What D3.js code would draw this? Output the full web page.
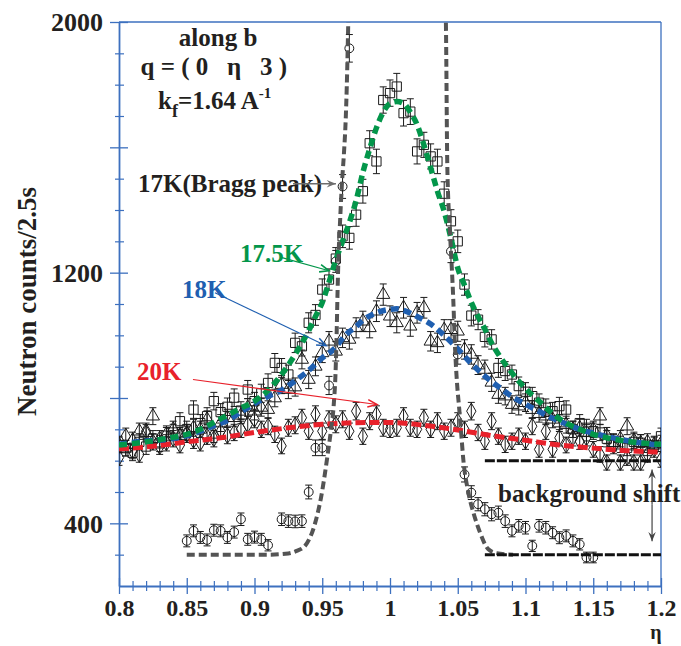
<!DOCTYPE html>
<html><head><meta charset="utf-8">
<script src="https://cdn.jsdelivr.net/npm/d3@7"></script>
<style>
body{margin:0;background:#fff}
svg text{font-family:"Liberation Serif","Times New Roman",serif;font-weight:bold}
</style>
</head><body>
<svg id="c" width="681" height="646"></svg>
<script>
// ---------------- DATA ----------------
const xTickValues = [0.8,0.85,0.9,0.95,1.0,1.05,1.1,1.15,1.2];
const xTickLabels = ["0.8","0.85","0.9","0.95","1","1.05","1.1","1.15","1.2"];
const yLabelValues = [400,1200,2000];
const yTickLabels = ["400","1200","2000"];
const yMajorTicks = [400,800,1200,1600,2000];

// [eta, counts, error]
const data17K = [
[0.850,344,19],[0.855,376,19],[0.860,355,19],[0.865,347,19],[0.870,378,19],[0.875,376,19],[0.880,355,19],[0.885,372,19],[0.890,413,20],[0.895,349,19],[0.900,356,19],[0.905,349,19],[0.910,330,18],[0.920,413,20],[0.925,407,20],[0.930,406,20],[0.935,407,20],[0.940,500,22],[0.945,641,25],[0.950,641,25],[0.955,840,29],[0.960,1236,35],[0.965,1475,38],[0.970,1916,44],
[1.045,1268,36],[1.050,939,31],[1.055,556,24],[1.060,498,22],[1.065,461,21],[1.070,445,21],[1.075,429,21],[1.080,434,21],[1.085,407,20],[1.090,376,19],[1.095,392,20],[1.100,386,20],[1.105,328,18],[1.110,392,20],[1.115,386,20],[1.120,370,19],[1.125,354,19],[1.130,360,19],[1.135,344,19],[1.140,333,18],[1.145,291,17],[1.150,291,17]];

const data175K = [
[0.800,650,25],[0.805,640,25],[0.810,625,25],[0.815,660,26],[0.820,645,25],[0.825,670,26],[0.830,655,26],[0.835,680,26],[0.840,690,26],[0.845,726,27],[0.850,700,26],[0.855,763,28],[0.860,720,27],[0.865,742,27],[0.870,790,28],[0.875,755,27],[0.880,772,28],[0.885,801,28],[0.890,760,28],[0.895,827,29],[0.900,790,28],[0.905,815,29],[0.910,848,29],[0.915,912,30],[0.920,896,30],[0.925,875,30],[0.930,976,31],[0.935,965,31],[0.940,1040,32],[0.945,1065,33],[0.950,1146,34],[0.955,1178,34],[0.960,1245,35],[0.965,1316,36],[0.970,1311,36],[0.975,1385,37],[0.980,1460,38],[0.985,1613,40],[0.990,1555,39],[0.995,1751,42],[1.000,1773,42],[1.005,1794,42],[1.010,1709,41],[1.015,1714,41],[1.020,1587,40],[1.025,1608,40],[1.030,1571,40],[1.035,1555,39],[1.040,1452,38],[1.045,1364,37],[1.050,1300,36],[1.055,1162,34],[1.060,1063,33],[1.065,1050,32],[1.070,995,32],[1.075,987,31],[1.080,896,30],[1.085,886,30],[1.090,875,30],[1.095,838,29],[1.100,820,29],[1.105,806,28],[1.110,785,28],[1.115,769,28],[1.120,758,28],[1.125,774,28],[1.130,763,28],[1.135,700,26],[1.140,720,27],[1.145,705,27],[1.150,694,26],[1.155,690,26],[1.160,670,26],[1.165,660,26],[1.170,652,26],[1.175,641,25],[1.180,660,26],[1.185,657,26],[1.190,641,25],[1.195,650,25],[1.200,678,26]];

const data18K = [
[0.800,652,26],[0.805,640,25],[0.810,665,26],[0.815,694,26],[0.820,689,26],[0.825,742,27],[0.830,670,26],[0.835,685,26],[0.840,700,26],[0.845,680,26],[0.850,690,26],[0.855,705,27],[0.860,700,26],[0.865,732,27],[0.870,684,26],[0.875,720,27],[0.880,737,27],[0.885,737,27],[0.890,745,27],[0.895,770,28],[0.900,758,28],[0.905,770,28],[0.910,763,28],[0.915,800,28],[0.920,843,29],[0.925,827,29],[0.930,835,29],[0.935,923,30],[0.940,859,29],[0.945,901,30],[0.950,944,31],[0.955,981,31],[0.960,949,31],[0.965,992,31],[0.970,987,31],[0.975,1024,32],[0.980,1045,32],[0.985,1024,32],[0.990,1077,33],[0.995,1130,34],[1.000,1061,33],[1.005,1040,32],[1.010,1088,33],[1.015,1029,32],[1.020,1072,33],[1.025,1088,33],[1.030,981,31],[1.035,976,31],[1.040,1018,32],[1.045,1018,32],[1.050,1013,32],[1.055,955,31],[1.060,939,31],[1.065,905,30],[1.070,891,30],[1.075,850,29],[1.080,811,28],[1.085,806,28],[1.090,779,28],[1.095,774,28],[1.100,785,28],[1.105,763,28],[1.110,750,27],[1.115,742,27],[1.120,732,27],[1.125,720,27],[1.130,715,27],[1.135,700,26],[1.140,705,27],[1.145,689,26],[1.150,700,26],[1.155,742,27],[1.160,680,26],[1.165,657,26],[1.170,670,26],[1.175,710,27],[1.180,665,26],[1.185,657,26],[1.190,660,26],[1.195,652,26],[1.200,655,26]];

const data20K = [
[0.800,610,25],[0.805,678,26],[0.810,631,25],[0.815,620,25],[0.820,694,26],[0.825,660,26],[0.830,645,25],[0.835,657,26],[0.840,670,26],[0.845,650,25],[0.850,684,26],[0.855,665,26],[0.860,657,26],[0.865,678,26],[0.870,670,26],[0.875,694,26],[0.880,680,26],[0.885,690,26],[0.890,700,26],[0.895,715,27],[0.900,732,27],[0.905,700,26],[0.910,710,27],[0.915,684,26],[0.920,647,25],[0.925,705,27],[0.930,713,27],[0.935,737,27],[0.940,694,26],[0.945,748,27],[0.950,694,26],[0.955,732,27],[0.960,716,27],[0.965,732,27],[0.970,694,26],[0.975,758,28],[0.980,678,26],[0.985,726,27],[0.990,748,27],[0.995,705,27],[1.000,700,26],[1.005,705,27],[1.010,742,27],[1.015,705,27],[1.020,700,26],[1.025,737,27],[1.030,700,26],[1.035,726,27],[1.040,694,26],[1.045,705,27],[1.050,726,27],[1.055,700,26],[1.060,758,28],[1.065,690,26],[1.070,662,26],[1.075,726,27],[1.080,678,26],[1.085,652,26],[1.090,662,26],[1.095,678,26],[1.100,662,26],[1.105,710,27],[1.110,636,25],[1.115,694,26],[1.120,636,25],[1.125,673,26],[1.130,650,25],[1.135,673,26],[1.140,662,26],[1.145,673,26],[1.150,636,25],[1.155,620,25],[1.160,594,24],[1.165,647,25],[1.170,594,24],[1.175,610,25],[1.180,594,24],[1.185,594,24],[1.190,620,25],[1.195,636,25],[1.200,604,25]];

// fitted curves [eta, counts]
const fit17KLeft = [[0.850,300],[0.870,300],[0.890,300],[0.910,300],[0.925,304],[0.9311,312],[0.9373,328],[0.9410,355],[0.9440,390],[0.9465,430],[0.9490,480],[0.9515,545],[0.9540,620],[0.9565,700],[0.9585,780],[0.9598,880],[0.9606,1000],[0.9613,1140],[0.9620,1250],[0.9631,1359],[0.9644,1475],[0.9660,1580],[0.9673,1688],[0.9681,1794],[0.9692,1997],[0.9700,2150]];
const fit17KRight = [[1.0405,2150],[1.0413,1984],[1.0423,1538],[1.0443,1328],[1.0467,1114],[1.0480,960],[1.0495,845],[1.0510,770],[1.0525,690],[1.0541,604],[1.0578,499],[1.0615,435],[1.0664,371],[1.0726,317],[1.0787,305],[1.0908,300]];
const fit175K = [[0.800,650],[0.820,660],[0.840,675],[0.850,684],[0.860,700],[0.870,722],[0.880,745],[0.890,768],[0.900,790],[0.910,825],[0.920,875],[0.930,939],[0.940,1015],[0.945,1060],[0.950,1105],[0.955,1170],[0.960,1240],[0.965,1300],[0.970,1360],[0.975,1430],[0.980,1520],[0.985,1595],[0.990,1662],[0.995,1712],[1.000,1740],[1.005,1746],[1.010,1740],[1.015,1712],[1.020,1672],[1.025,1608],[1.030,1535],[1.035,1460],[1.040,1395],[1.045,1310],[1.050,1215],[1.055,1160],[1.060,1105],[1.065,1060],[1.070,1020],[1.075,975],[1.080,940],[1.090,880],[1.100,830],[1.110,790],[1.120,750],[1.130,720],[1.140,700],[1.150,684],[1.160,673],[1.170,665],[1.180,659],[1.190,655],[1.200,652]];
const fit18K = [[0.800,652],[0.820,663],[0.835,668],[0.850,680],[0.860,694],[0.870,712],[0.880,728],[0.890,755],[0.900,782],[0.910,805],[0.920,825],[0.930,855],[0.940,888],[0.950,928],[0.960,962],[0.965,990],[0.970,1012],[0.975,1028],[0.980,1048],[0.990,1072],[1.000,1083],[1.005,1085],[1.010,1080],[1.020,1060],[1.030,1036],[1.040,1000],[1.050,957],[1.060,910],[1.070,870],[1.080,836],[1.090,805],[1.100,780],[1.110,757],[1.120,735],[1.130,717],[1.140,700],[1.150,688],[1.160,677],[1.170,668],[1.180,660],[1.190,654],[1.200,649]];
const fit20K = [[0.800,638],[0.825,646],[0.850,660],[0.875,673],[0.900,690],[0.925,705],[0.950,716],[0.975,721],[1.000,722],[1.025,713],[1.050,698],[1.075,680],[1.100,665],[1.125,650],[1.150,640],[1.175,632],[1.200,627]];
const bgLow = [[1.07,300],[1.2,300]];
const bgHigh = [[1.07,600],[1.2,600]];

// ---------------- CHART ----------------
const svg = d3.select("#c");
const x = d3.scaleLinear().domain([0.8,1.2]).range([119,661]);
const y = d3.scaleLinear().domain([200,2000]).range([586,22]);
const AX = "#3d70bf";
const INK = "#231f20";

svg.append("defs").append("clipPath").attr("id","clip")
  .append("rect").attr("x",x(0.8)).attr("y",y(2000)).attr("width",x(1.2)-x(0.8)).attr("height",y(200)-y(2000));

// frame
svg.append("line").attr("x1",x(0.8)).attr("x2",x(1.2)).attr("y1",y(2000)).attr("y2",y(2000)).attr("stroke",AX).attr("stroke-width",1.3);
svg.append("line").attr("x1",x(1.2)).attr("x2",x(1.2)).attr("y1",y(2000)).attr("y2",y(200)).attr("stroke",AX).attr("stroke-width",1.3);

// bottom axis
const xMinor = d3.range(80,121).map(d=>d/100).filter(d=>Math.round(d*100)%5!==0);
const gxm = svg.append("g").attr("transform",`translate(0,${y(200)})`)
  .call(d3.axisBottom(x).tickValues(xMinor).tickSize(5).tickSizeOuter(0).tickFormat(""));
gxm.select(".domain").remove();
gxm.selectAll(".tick line").attr("y1",-5).attr("stroke",AX).attr("stroke-width",1.2);
const gx = svg.append("g").attr("transform",`translate(0,${y(200)})`)
  .call(d3.axisBottom(x).tickValues(xTickValues).tickSize(8).tickSizeOuter(0).tickFormat((d,i)=>xTickLabels[i]));
gx.select(".domain").attr("stroke",AX).attr("stroke-width",1.8);
gx.selectAll(".tick line").attr("y1",-8).attr("stroke",AX).attr("stroke-width",1.3);
gx.selectAll(".tick text").attr("y",30).attr("dy",0).attr("fill",INK)
  .style("font-size","24px").style("font-family",'"Liberation Serif",serif').style("font-weight","bold");

// left axis
const yMinor = d3.range(300,2000,100).filter(d=>d%400!==0);
const gym = svg.append("g").attr("transform",`translate(${x(0.8)},0)`)
  .call(d3.axisLeft(y).tickValues(yMinor).tickSize(4).tickSizeOuter(0).tickFormat(""));
gym.select(".domain").remove();
gym.selectAll(".tick line").attr("x1",5).attr("stroke",AX).attr("stroke-width",1.2);
const gyM = svg.append("g").attr("transform",`translate(${x(0.8)},0)`)
  .call(d3.axisLeft(y).tickValues(yMajorTicks).tickSize(9).tickSizeOuter(0).tickFormat(""));
gyM.select(".domain").attr("stroke",AX).attr("stroke-width",1.8);
gyM.selectAll(".tick line").attr("x1",9).attr("stroke",AX).attr("stroke-width",1.3);
const gy = svg.append("g").attr("transform",`translate(${x(0.8)},0)`)
  .call(d3.axisLeft(y).tickValues(yLabelValues).tickSize(0).tickPadding(16).tickFormat((d,i)=>yTickLabels[i]));
gy.select(".domain").remove();
gy.selectAll(".tick text").attr("fill",INK).attr("dy","0.34em")
  .style("font-size","26px").style("font-family",'"Liberation Serif",serif').style("font-weight","bold");

// axis titles
svg.append("text").attr("transform",`translate(36,${y(1108)}) rotate(-90)`).attr("text-anchor","middle")
  .attr("fill",INK).style("font-size","27px").text("Neutron counts/2.5s");
svg.append("text").attr("x",656).attr("y",639).attr("text-anchor","middle").attr("fill",INK)
  .style("font-size","20px").text("η");

// ---------- points ----------
const plot = svg.append("g").attr("clip-path","url(#clip)");
function drawSeries(data, symType, size){
  const g = plot.append("g");
  const eb = g.selectAll("g.eb").data(data).join("g").attr("stroke","#1a1a1a").attr("stroke-width",1);
  eb.append("line").attr("x1",d=>x(d[0])).attr("x2",d=>x(d[0])).attr("y1",d=>y(d[1]-d[2])).attr("y2",d=>y(d[1]+d[2]));
  eb.append("line").attr("x1",d=>x(d[0])-3.5).attr("x2",d=>x(d[0])+3.5).attr("y1",d=>y(d[1]-d[2])).attr("y2",d=>y(d[1]-d[2]));
  eb.append("line").attr("x1",d=>x(d[0])-3.5).attr("x2",d=>x(d[0])+3.5).attr("y1",d=>y(d[1]+d[2])).attr("y2",d=>y(d[1]+d[2]));
  g.selectAll("path.m").data(data).join("path").attr("class","m")
    .attr("d",d3.symbol().type(symType).size(size))
    .attr("transform",d=>`translate(${x(d[0])},${y(d[1])})`)
    .attr("fill","none").attr("stroke","#1a1a1a").attr("stroke-width",1);
}
drawSeries(data20K, d3.symbolDiamond, 75);
drawSeries(data18K, d3.symbolTriangle, 75);
drawSeries(data175K, d3.symbolSquare, 85);
drawSeries(data17K, d3.symbolCircle, 62);

// ---------- fits ----------
const line = d3.line().x(d=>x(d[0])).y(d=>y(d[1])).curve(d3.curveMonotoneX);
function fit(data,color,w,dash){
  plot.append("path").datum(data).attr("d",line).attr("fill","none")
    .attr("stroke",color).attr("stroke-width",w).attr("stroke-dasharray",dash);
}
fit(fit20K,"#e8212b",5,"10,4");
fit(fit18K,"#1f5fb0",5.5,"8,5");
fit(fit175K,"#03964a",5.5,"8,5");
fit(fit17KLeft,"#545454",4,"8,4");
fit(fit17KRight,"#545454",4,"8,4");
const lin = d3.line().x(d=>x(d[0])).y(d=>y(d[1]));
[bgLow,bgHigh].forEach(b=>plot.append("path").datum(b).attr("d",lin).attr("fill","none")
  .attr("stroke","#111").attr("stroke-width",3).attr("stroke-dasharray","10,2"));

// ---------- annotations ----------
function txt(eta,val,str,color,size,anchor){
  return svg.append("text").attr("x",x(eta)).attr("y",y(val)).attr("fill",color||INK)
    .attr("text-anchor",anchor||"start").style("font-size",(size||25)+"px").text(str);
}
txt(0.8731,1923,"along b",INK,25,"middle");
txt(0.8700,1830,"q\u00A0=\u00A0(\u00A00\u00A0\u00A0\u00A0η\u00A0\u00A0\u00A03\u00A0)",INK,25,"middle");
const kt = svg.append("text").attr("x",x(0.8288)).attr("y",y(1722)).attr("fill",INK).style("font-size","25px");
kt.append("tspan").text("k");
kt.append("tspan").attr("dy",8).style("font-size","18px").text("f");
kt.append("tspan").attr("dy",-8).text("=1.64 A");
kt.append("tspan").attr("dy",-11).style("font-size","15px").text("-1");

txt(0.8140,1458,"17K(Bragg peak)",INK,25);
txt(0.8893,1235,"17.5K","#03964a",25);
txt(0.8465,1120,"18K","#1f5fb0",25);
txt(0.8133,856,"20K","#e8212b",25);
txt(1.0797,467,"background shift",INK,25);

function arrow(p0,p1,color,w,filled){
  const X0=x(p0[0]),Y0=y(p0[1]),X1=x(p1[0]),Y1=y(p1[1]);
  svg.append("line").attr("x1",X0).attr("y1",Y0).attr("x2",X1).attr("y2",Y1).attr("stroke",color).attr("stroke-width",w);
  const a=Math.atan2(Y1-Y0,X1-X0), L=10, s=0.38;
  const pA=[X1-L*Math.cos(a-s),Y1-L*Math.sin(a-s)], pB=[X1-L*Math.cos(a+s),Y1-L*Math.sin(a+s)];
  if(filled){
    svg.append("path").attr("d",`M${X1},${Y1}L${pA[0]},${pA[1]}L${X1-6*Math.cos(a)},${Y1-6*Math.sin(a)}L${pB[0]},${pB[1]}Z`).attr("fill",color);
  } else {
    svg.append("path").attr("d",`M${pA[0]},${pA[1]}L${X1},${Y1}L${pB[0]},${pB[1]}`).attr("fill","none").attr("stroke",color).attr("stroke-width",w+0.4);
  }
}
arrow([0.9284,1484],[0.9601,1484],"#6d6d6d",1.6,true);
arrow([0.9203,1248],[0.9550,1206],"#03964a",1.2,false);
arrow([0.8708,1136],[0.9528,967],"#1f5fb0",1.1,false);
arrow([0.8546,859],[0.9904,779],"#e8212b",1.1,false);
arrow([1.1934,460],[1.1934,572],"#444",1.2,true);
arrow([1.1934,460],[1.1934,343],"#444",1.2,true);
</script>
</body></html>
